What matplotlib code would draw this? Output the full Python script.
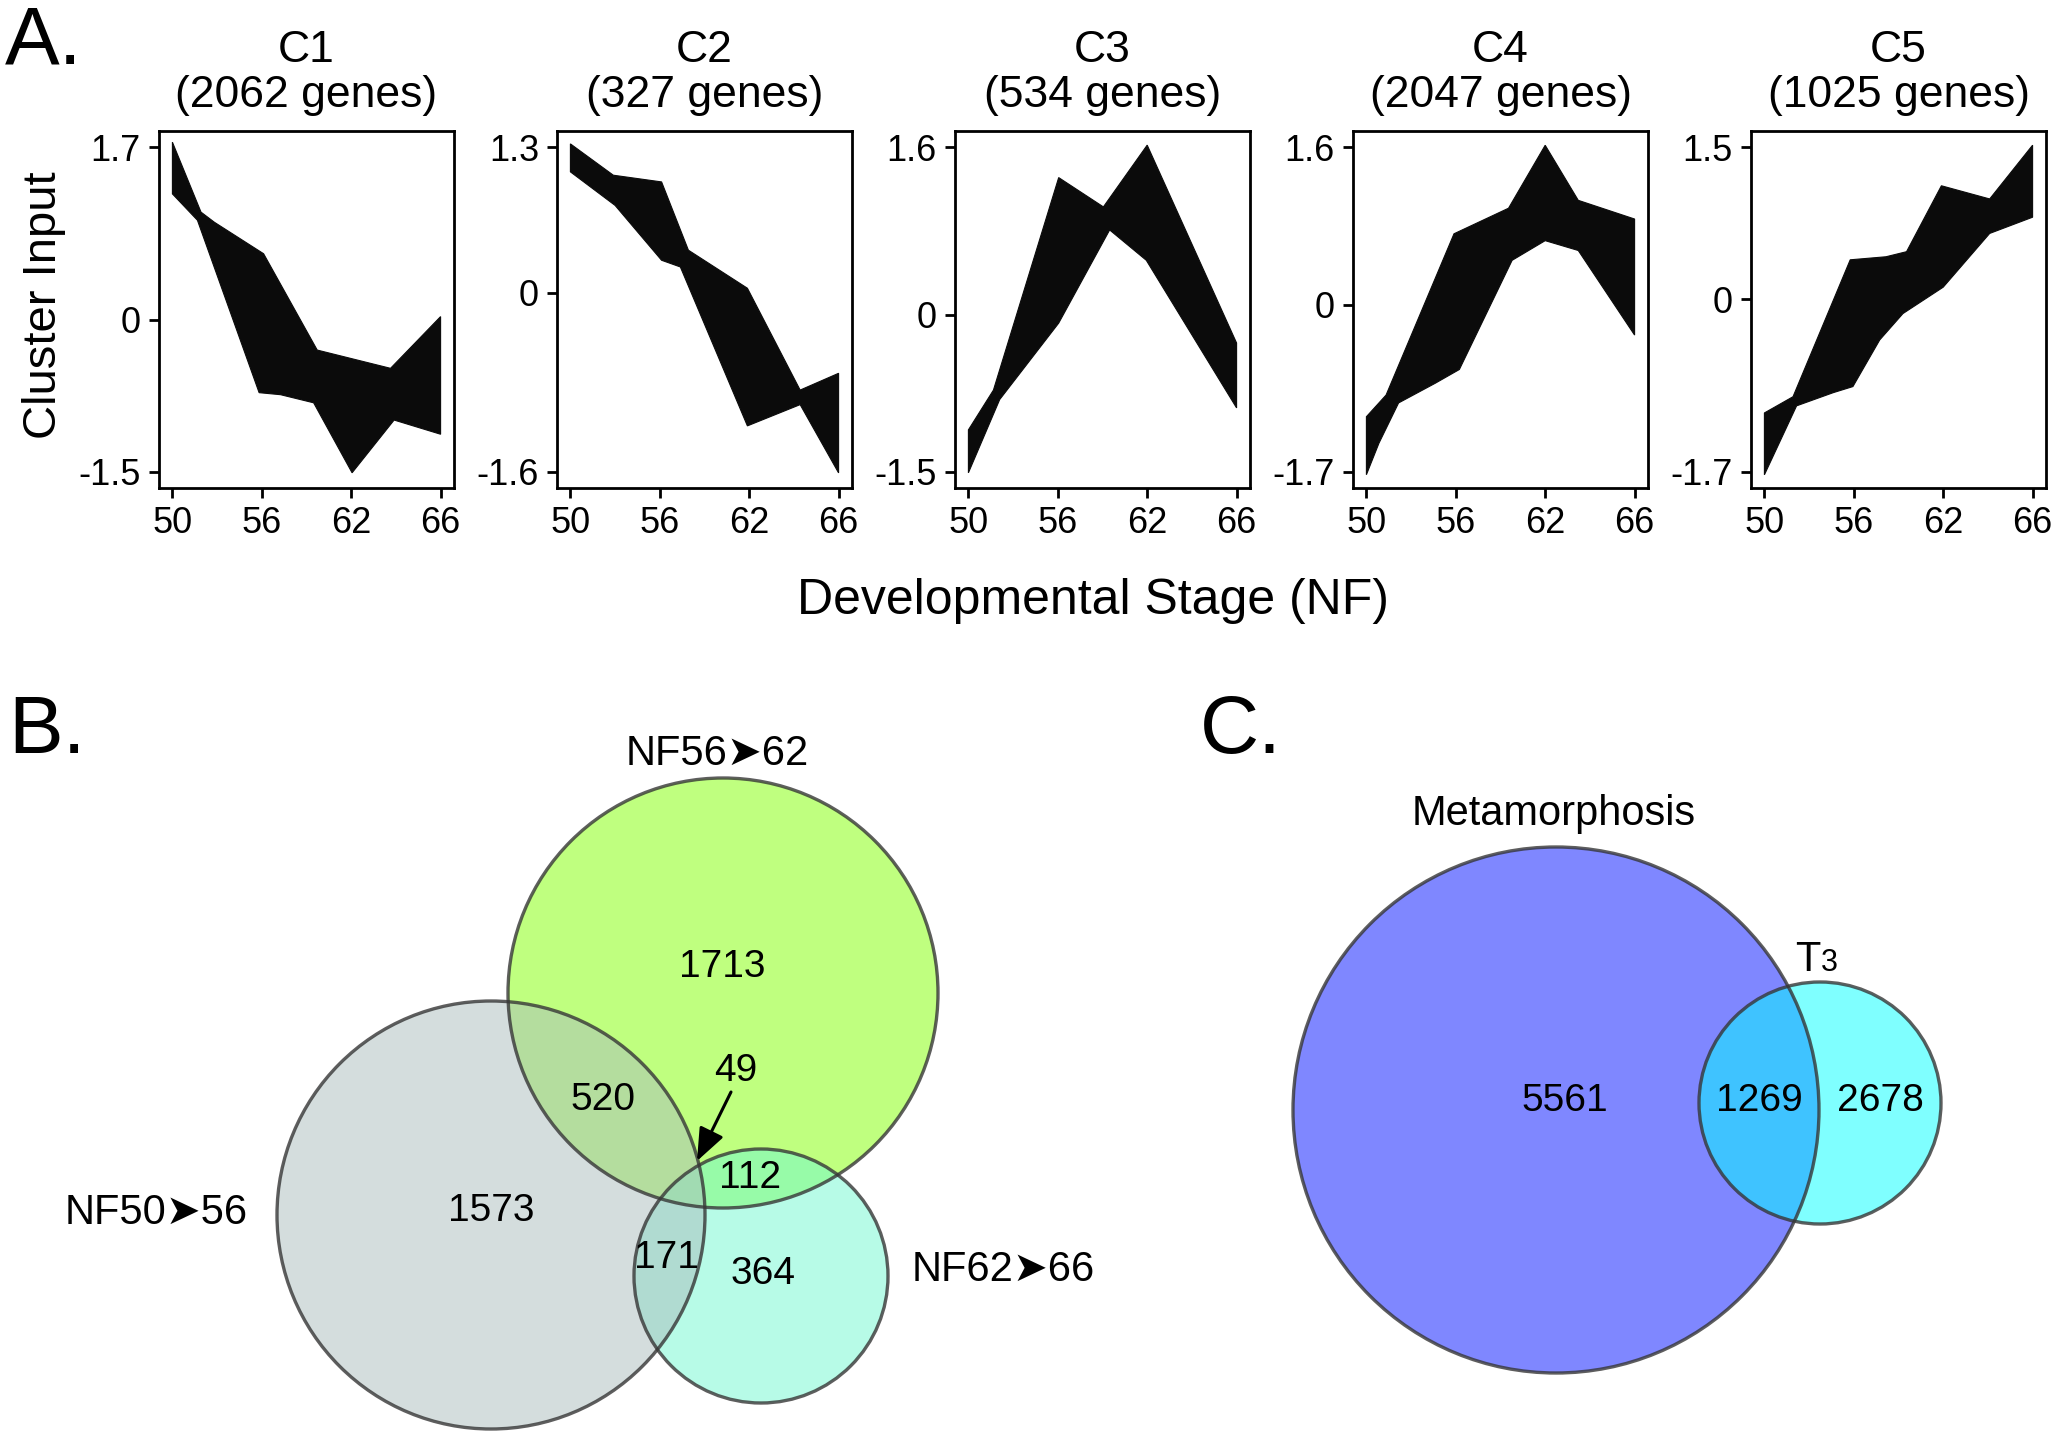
import matplotlib
matplotlib.use('Agg')
import matplotlib.pyplot as plt
from matplotlib.patches import Circle, Polygon

plt.rcParams['font.family'] = ['Liberation Sans', 'DejaVu Sans']

W, H = 2055, 1442

# ---- panel A data: cluster profiles (envelope of the gene curves) ----
stage_ticks = [0, 1, 2, 3]
stage_labels = ['50', '56', '62', '66']

cluster_names = ['C1', 'C2', 'C3', 'C4', 'C5']
gene_counts = [2062, 327, 534, 2047, 1025]
y_max = [1.7, 1.3, 1.6, 1.6, 1.5]
y_min = [-1.5, -1.6, -1.5, -1.7, -1.7]

c1_upper_x = [0, 0.32, 0.47, 1.02, 1.62, 2.44, 3.0]
c1_upper_y = [1.75, 1.06, 0.96, 0.65, -0.30, -0.48, 0.03]
c1_lower_x = [0, 0.28, 0.97, 1.21, 1.58, 2.01, 2.48, 3.0]
c1_lower_y = [1.24, 0.98, -0.72, -0.74, -0.82, -1.51, -0.99, -1.13]

c2_upper_x = [0, 0.48, 1.02, 1.32, 1.98, 2.57, 3.0]
c2_upper_y = [1.33, 1.05, 0.99, 0.38, 0.04, -0.87, -0.72]
c2_lower_x = [0, 0.5, 1.02, 1.23, 1.98, 2.57, 3.0]
c2_lower_y = [1.08, 0.78, 0.29, 0.23, -1.19, -1.0, -1.61]

c3_upper_x = [0, 0.28, 1.01, 1.51, 2.0, 3.0]
c3_upper_y = [-1.10, -0.72, 1.31, 1.03, 1.62, -0.27]
c3_lower_x = [0, 0.35, 1.01, 1.58, 1.99, 3.0]
c3_lower_y = [-1.51, -0.81, -0.08, 0.81, 0.52, -0.89]

c4_upper_x = [0, 0.22, 0.98, 1.59, 2.0, 2.37, 3.0]
c4_upper_y = [-1.14, -0.92, 0.72, 0.98, 1.62, 1.06, 0.87]
c4_lower_x = [0, 0.14, 0.36, 0.77, 1.04, 1.63, 2.0, 2.37, 3.0]
c4_lower_y = [-1.73, -1.41, -1.0, -0.8, -0.66, 0.45, 0.65, 0.55, -0.31]

c5_upper_x = [0, 0.32, 0.96, 1.36, 1.59, 1.98, 2.52, 3.0]
c5_upper_y = [-1.12, -0.96, 0.39, 0.42, 0.47, 1.12, 0.99, 1.52]
c5_lower_x = [0, 0.36, 0.77, 0.99, 1.29, 1.55, 2.0, 2.52, 3.0]
c5_lower_y = [-1.73, -1.05, -0.92, -0.86, -0.40, -0.14, 0.12, 0.65, 0.81]

envelopes = [
    (c1_upper_x, c1_upper_y, c1_lower_x, c1_lower_y),
    (c2_upper_x, c2_upper_y, c2_lower_x, c2_lower_y),
    (c3_upper_x, c3_upper_y, c3_lower_x, c3_lower_y),
    (c4_upper_x, c4_upper_y, c4_lower_x, c4_lower_y),
    (c5_upper_x, c5_upper_y, c5_lower_x, c5_lower_y),
]

# ---- panel B data: three-way Venn ----
b_set_names = ['NF50\u27a456', 'NF56\u27a462', 'NF62\u27a466']
b_only = [1573, 1713, 364]          # 50-56 only, 56-62 only, 62-66 only
b_pair_50_56 = 520
b_pair_56_62 = 112
b_pair_50_62 = 171
b_all = 49

# ---- panel C data: two-way Venn ----
c_set_names = ['Metamorphosis', 'T']
c_counts = [5561, 1269, 2678]       # metamorphosis only, both, T3 only

# ---- figure ----
fig = plt.figure(figsize=(W / 100, H / 100), dpi=100)

# background axes in pixel units for the Venn diagrams
vax = fig.add_axes([0, 0, 1, 1])
vax.set_xlim(0, W)
vax.set_ylim(H, 0)
vax.axis('off')

# cluster profile panels
ax_left0, ax_step, ax_w = 159, 398, 295
ax_top, ax_bot = 131, 488
for i, name in enumerate(cluster_names):
    left = ax_left0 + i * ax_step
    ax = fig.add_axes([left / W, 1 - ax_bot / H, ax_w / W, (ax_bot - ax_top) / H])
    ux, uy, lx, ly = envelopes[i]
    pts = list(zip(ux, uy)) + list(zip(lx[::-1], ly[::-1]))
    ax.add_patch(Polygon(pts, closed=True, facecolor='#0b0b0b', edgecolor='#0b0b0b', lw=0.8))
    rng = y_max[i] - y_min[i]
    ax.set_ylim(y_min[i] - 0.05 * rng, y_max[i] + 0.05 * rng)
    ax.set_xlim(-0.15, 3.15)
    ax.set_xticks(stage_ticks)
    ax.set_xticklabels(stage_labels)
    ax.set_yticks([y_min[i], 0, y_max[i]])
    ax.set_yticklabels(['%g' % y_min[i], '0', '%g' % y_max[i]])
    ax.tick_params(labelsize=26, length=7, width=2, pad=6)
    for sp in ax.spines.values():
        sp.set_linewidth(2)
    ax.text(0.5, (ax_bot - 62) / (ax_bot - ax_top), name, transform=ax.transAxes,
            ha='center', va='baseline', fontsize=32)
    ax.text(0.5, (ax_bot - 107) / (ax_bot - ax_top), '(%d genes)' % gene_counts[i],
            transform=ax.transAxes, ha='center', va='baseline', fontsize=32)

fig.text(44 / W, 1 - 305 / H, 'Cluster Input', rotation=90, ha='center', va='center', fontsize=34)
fig.text(1093 / W, 1 - 614 / H, 'Developmental Stage (NF)', ha='center', va='baseline', fontsize=36)

# panel letters
fig.text(5 / W, 1 - 63 / H, 'A.', fontsize=59, va='baseline')
fig.text(8 / W, 1 - 753 / H, 'B.', fontsize=59, va='baseline')
fig.text(1200 / W, 1 - 753 / H, 'C.', fontsize=59, va='baseline')

edge_col = '#363636'

# ---- panel B drawing ----
b_centers = [(491, 1215), (723, 993), (761, 1276)]
b_radii = [214, 215, 127]
b_colors = ['#abbdbd', '#81ff01', '#71f9d1']
for k in [1, 2, 0]:
    vax.add_patch(Circle(b_centers[k], b_radii[k], facecolor=b_colors[k], alpha=0.5, edgecolor='none'))
for k in [1, 2, 0]:
    vax.add_patch(Circle(b_centers[k], b_radii[k], fill=False, edgecolor=edge_col, lw=2.4, alpha=0.8))

num_fs = 28
lab_fs = 30
vax.text(491, 1211, str(b_only[0]), ha='center', va='center', fontsize=num_fs)
vax.text(722, 967, str(b_only[1]), ha='center', va='center', fontsize=num_fs)
vax.text(763, 1274, str(b_only[2]), ha='center', va='center', fontsize=num_fs)
vax.text(603, 1100, str(b_pair_50_56), ha='center', va='center', fontsize=num_fs)
vax.text(750, 1178, str(b_pair_56_62), ha='center', va='center', fontsize=num_fs)
vax.text(666, 1258, str(b_pair_50_62), ha='center', va='center', fontsize=num_fs)
vax.text(736, 1071, str(b_all), ha='center', va='center', fontsize=num_fs)
vax.annotate('', xy=(697, 1161), xytext=(731, 1092),
             arrowprops=dict(arrowstyle='-|>,head_length=1.0,head_width=0.4', color='black',
                             lw=2.2, mutation_scale=20, shrinkA=0, shrinkB=0))

vax.text(156, 1213, b_set_names[0], ha='center', va='center', fontsize=lab_fs)
vax.text(717, 754, b_set_names[1], ha='center', va='center', fontsize=lab_fs)
vax.text(1003, 1270, b_set_names[2], ha='center', va='center', fontsize=lab_fs)

# ---- panel C drawing ----
c_centers = [(1556, 1110), (1820, 1103)]
c_radii = [263, 121]
c_colors = ['#0111ff', '#01ffff']
for k in range(2):
    vax.add_patch(Circle(c_centers[k], c_radii[k], facecolor=c_colors[k], alpha=0.5, edgecolor='none'))
for k in range(2):
    vax.add_patch(Circle(c_centers[k], c_radii[k], fill=False, edgecolor=edge_col, lw=2.4, alpha=0.8))

vax.text(1565, 1101, str(c_counts[0]), ha='center', va='center', fontsize=num_fs)
vax.text(1759, 1101, str(c_counts[1]), ha='center', va='center', fontsize=num_fs)
vax.text(1880, 1101, str(c_counts[2]), ha='center', va='center', fontsize=num_fs)
vax.text(1554, 814, c_set_names[0], ha='center', va='center', fontsize=lab_fs)
vax.text(1820, 971, c_set_names[1], ha='right', va='baseline', fontsize=lab_fs)
vax.text(1821, 971, '3', ha='left', va='baseline', fontsize=22)

fig.savefig('out.png', dpi=100)
